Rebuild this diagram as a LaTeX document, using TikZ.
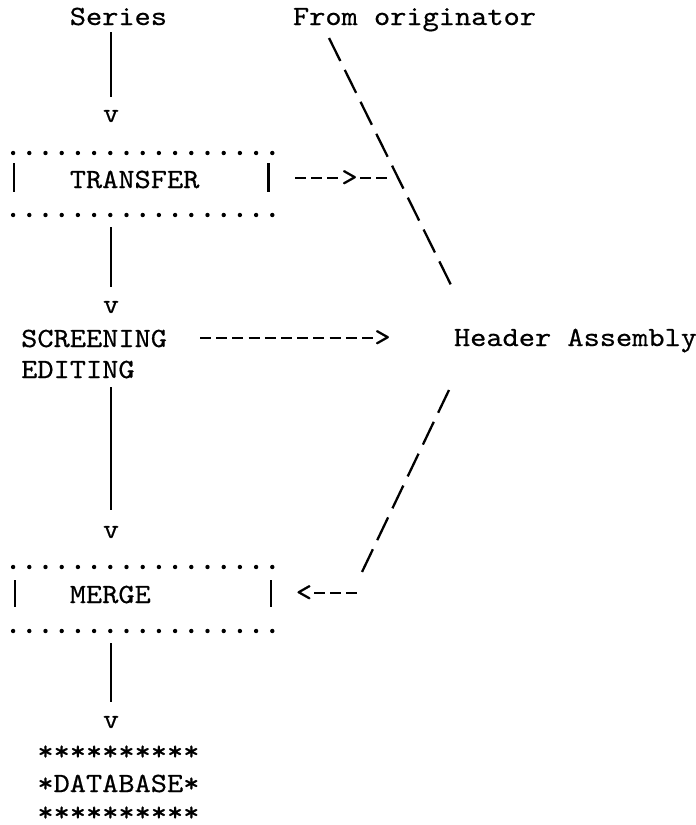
\documentclass[tikz,border=0pt]{standalone}
\usepackage{fontspec}
\usepackage{graphicx}
\newfontfamily\typew{lmmono10-regular.otf}[FakeBold=0.5]
\newcommand{\tw}[1]{\scalebox{1.11}[1]{#1}}
\begin{document}
\begin{tikzpicture}[
  x=0.5pt, y=-0.5pt,
  tt/.style={inner sep=0pt, outer sep=0pt, font=\fontsize{13.9pt}{16pt}\selectfont\typew},
  vline/.style={line width=1.15pt},
  bar/.style={line width=1.15pt},
  dotrow/.style={line width=2.2pt, line cap=round, dash pattern=on 0pt off 8.1pt},
  hyph/.style={line width=1.35pt, dash pattern=on 5.5pt off 2.6pt},
  bslash/.style={line width=1.15pt, dash pattern=on 12.8pt off 5pt},
  fslash/.style={line width=1.15pt, dash pattern=on 12.6pt off 5.05pt},
  boxspace/.style={inner sep=0pt, outer sep=0pt, minimum width=129.6pt},
]
\useasboundingbox (0,0) rectangle (696,825);

% texts
\node[tt, anchor=base west] (series) at (69.8,25) {\tw{Series}};
\node[tt, anchor=base west] (orig) at (293,25) {\tw{From originator}};
\node[tt, anchor=base] (v1) at (111,122) {\tw{v}};
\node[tt, anchor=base west] (transfer) at (69.8,188) {\tw{TRANSFER}};
\node[tt, anchor=base] (v2) at (111,313) {\tw{v}};
\node[tt, anchor=base west] (screening) at (21.2,347) {\tw{SCREENING}};
\node[tt, anchor=base west] (editing) at (21.2,378) {\tw{EDITING}};
\node[tt, anchor=base west] (header) at (454,346) {\tw{Header Assembly}};
\node[tt, anchor=base] (v3) at (111,538) {\tw{v}};
\node[tt, anchor=base west] (merge) at (69.8,603) {\tw{MERGE}};
\node[tt, anchor=base] (v4) at (111,728) {\tw{v}};
\node[tt, anchor=base west] (db1) at (37.4,760) {\tw{**********}};
\node[tt, anchor=base west] (db2) at (37.4,792) {\tw{*DATABASE*}};
\node[tt, anchor=base west] (db3) at (37.4,821) {\tw{**********}};

% arrowhead characters
\node[tt] (gtA) at (349.5,178) {\tw{>}};
\node[tt] (gtB) at (382.5,338) {\tw{>}};
\node[tt] (ltC) at (304,593) {\tw{<}};

% boxes
\node[boxspace, minimum height=31pt] (tbox) at (142.7,184) {};
\node[boxspace, minimum height=32pt] (mbox) at (142.7,599) {};
\draw[dotrow] (tbox.north west) -- ([xshift=0.2pt]tbox.north east);
\draw[dotrow] (tbox.south west) -- ([xshift=0.2pt]tbox.south east);
\draw[bar] ([xshift=0.45pt,yshift=-5pt]tbox.north west) -- ([xshift=0.45pt,yshift=-19.5pt]tbox.north west);
\draw[bar] ([xshift=-1.9pt,yshift=-5pt]tbox.north east) -- ([xshift=-1.9pt,yshift=-19.5pt]tbox.north east);
\draw[dotrow] (mbox.north west) -- ([xshift=0.2pt]mbox.north east);
\draw[dotrow] (mbox.south west) -- ([xshift=0.2pt]mbox.south east);
\draw[bar] ([xshift=0.95pt,yshift=-6.5pt]mbox.north west) -- ([xshift=0.95pt,yshift=-20pt]mbox.north west);
\draw[bar] ([xshift=-0.65pt,yshift=-6.5pt]mbox.north east) -- ([xshift=-0.65pt,yshift=-20pt]mbox.north east);

% vertical connectors
\draw[vline, shorten <=3.5pt, shorten >=6.5pt] (v1.north |- series.south) -- (v1.north);
\draw[vline, shorten <=6pt, shorten >=7pt] (v2.north |- tbox.south) -- (v2.north);
\draw[vline, shorten <=4.5pt, shorten >=8pt] (v3.north |- editing.south) -- (v3.north);
\draw[vline, shorten <=6pt, shorten >=7pt] (v4.north |- mbox.south) -- (v4.north);

% diagonal connectors
\coordinate (d1a) at (329,38);
\coordinate (d1b) at (451,285);
\draw[bslash] (d1a) -- (d1b);
\coordinate (d2a) at (449,390);
\coordinate (d2b) at (362,572);
\draw[fslash] (d2a) -- (d2b);

% hyphen connectors
\coordinate (h1a) at (295,178);
\coordinate (h1b) at (360,178);
\coordinate (h1c) at (388,178);
\draw[hyph] (h1a) -- (gtA.west);
\draw[hyph] (h1b) -- (h1c);
\coordinate (h2a) at (200,338);
\draw[hyph] (h2a) -- (gtB.west);
\coordinate (h3a) at (314,593);
\coordinate (h3b) at (358,593);
\draw[hyph] (h3a) -- (h3b);
\end{tikzpicture}
\end{document}
